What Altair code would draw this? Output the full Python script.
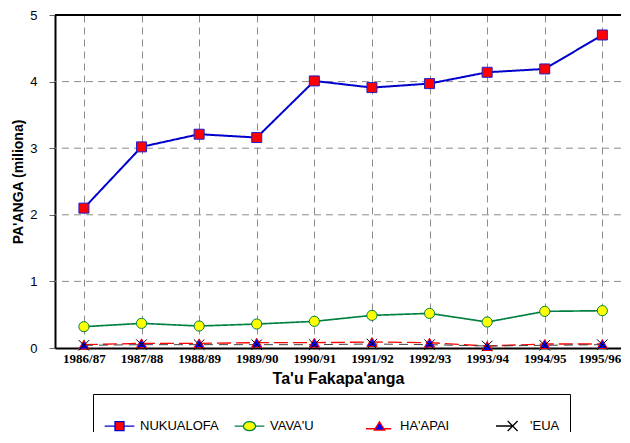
import altair as alt
import pandas as pd

years = ["1986/87", "1987/88", "1988/89", "1989/90", "1990/91",
         "1991/92", "1992/93", "1993/94", "1994/95", "1995/96"]
nukualofa = [2.10, 3.02, 3.21, 3.16, 4.01, 3.91, 3.97, 4.14, 4.19, 4.70]
vavau = [0.32, 0.37, 0.33, 0.36, 0.40, 0.49, 0.52, 0.39, 0.55, 0.56]
haapai = [0.05, 0.07, 0.07, 0.08, 0.08, 0.09, 0.08, 0.03, 0.06, 0.06]
eua = [0.04, 0.05, 0.05, 0.05, 0.05, 0.06, 0.05, 0.03, 0.04, 0.05]

series_names = ["NUKUALOFA", "VAVA'U", "HA'APAI", "'EUA"]
series_values = [nukualofa, vavau, haapai, eua]

line_colors = ["#0000CC", "#008040", "#FF0000", "#404040"]
line_widths = [2, 1, 1.5, 1.5]
line_dashes = [[1, 0], [1, 0], [14, 5], [9, 6]]
marker_fill = ["#FF0000", "#FFFF00", "#0000FF", "#000000"]
marker_stroke = ["#2020CC", "#008040", "#FF0000", "#000000"]
marker_shapes = ["square", "circle", "triangle-up", "M-1,-1L1,1M-1,1L1,-1"]
marker_sizes = [100, 110, 70, 70]
legend_strokes = ["#0000CC", "#008040", "#FF0000", "#000000"]
legend_paths = [
    "M-3.3,0H-1M1,0H3.3M-1,-1H1V1H-1Z",
    "M-3.3,0H-1.35M1.35,0H3.3M-1.35,0A1.35,1 0 1,0 1.35,0A1.35,1 0 1,0 -1.35,0Z",
    "M-3.0,0.55H-0.8M0.8,0.55H2.6M0,-1L1.15,0.85H-1.15Z",
    "M-3.0,0H0.8M-0.4,-1.1L1.8,1.1M-0.4,1.1L1.8,-1.1",
]

y_ticks = [0, 0.5, 1, 1.5, 2, 2.5, 3, 3.5, 4, 4.5, 5]
grid_y = [1, 2, 3, 4]
top_y = [5]

rows = []
for name, vals in zip(series_names, series_values):
    for yr, v in zip(years, vals):
        rows.append({"year": yr, "value": v, "series": name})
df = pd.DataFrame(rows)

x_enc = alt.X("year:N", sort=years,
              scale=alt.Scale(type="point", padding=0.413, align=0.608),
              axis=alt.Axis(title="Ta'u Fakapa'anga", labelAngle=0, ticks=False,
                            labelFont="Liberation Serif", labelFontWeight="bold",
                            labelFontSize=13, labelColor="black", labelPadding=4,
                            labelOffset={"condition": {"test": "datum.label == '1995/96'", "value": -3}, "value": 0},
                            domainColor="black", domainWidth=2,
                            grid=True, gridDash=[7, 5], gridColor="#8c8c8c", gridWidth=1,
                            titleFont="Liberation Sans", titleFontSize=16,
                            titleFontWeight=900, titleColor="black", titlePadding=5))
y_scale = alt.Scale(domain=[0, 5], nice=False)
y_enc = alt.Y("value:Q", scale=y_scale,
              axis=alt.Axis(title="PA'ANGA (miliona)", values=y_ticks,
                            labelExpr="datum.value % 1 == 0 ? format(datum.value, 'd') : ''",
                            labelFont="Liberation Sans", labelFontSize=13,
                            labelColor="black", labelPadding=12,
                            tickSize=6, tickColor="#666666", tickWidth=1,
                            domainColor="black", domainWidth=2, grid=False,
                            titleFont="Liberation Sans", titleFontSize=14,
                            titleFontWeight=900, titleColor="black", titlePadding=4))

grid = alt.Chart(pd.DataFrame({"g": grid_y})).mark_rule(
    color="#8c8c8c", strokeDash=[7, 5], strokeWidth=1
).encode(y=alt.Y("g:Q", scale=y_scale))

top = alt.Chart(pd.DataFrame({"t": top_y})).mark_rule(
    color="black", strokeWidth=2
).encode(y=alt.Y("t:Q", scale=y_scale))

lines = alt.Chart(df).mark_line().encode(
    x=x_enc, y=y_enc,
    color=alt.Color("series:N", scale=alt.Scale(domain=series_names, range=line_colors), legend=None),
    strokeWidth=alt.StrokeWidth("series:N", scale=alt.Scale(domain=series_names, range=line_widths), legend=None),
    strokeDash=alt.StrokeDash("series:N", scale=alt.Scale(domain=series_names, range=line_dashes), legend=None),
    order=alt.Order("year:N"),
)

points = alt.Chart(df).mark_point(filled=True, opacity=1, strokeWidth=1).encode(
    x=alt.X("year:N", sort=years), y="value:Q",
    shape=alt.Shape("series:N", scale=alt.Scale(domain=series_names, range=marker_shapes), legend=None),
    fill=alt.Fill("series:N", scale=alt.Scale(domain=series_names, range=marker_fill), legend=None),
    stroke=alt.Stroke("series:N", scale=alt.Scale(domain=series_names, range=marker_stroke), legend=None),
    size=alt.Size("series:N", scale=alt.Scale(domain=series_names, range=marker_sizes), legend=None),
)

leg = dict(orient="none", legendX=38, legendY=379, direction="horizontal",
           columns=4, gridAlign="all", columnPadding=13, title=" ",
           titleFontSize=10, titlePadding=5,
           labelFont="Liberation Sans", labelFontSize=13, labelColor="black",
           symbolSize=81, symbolStrokeWidth=1.3, symbolOpacity=1,
           symbolOffset=10, labelOffset=14,
           strokeColor="black", padding=10, fillColor="white")

legend_layer = alt.Chart(df).mark_point(filled=True, opacity=0).encode(
    x=alt.X("year:N", sort=years), y="value:Q",
    shape=alt.Shape("series:N", scale=alt.Scale(domain=series_names, range=legend_paths), legend=alt.Legend(**leg)),
    fill=alt.Fill("series:N", scale=alt.Scale(domain=series_names, range=marker_fill), legend=alt.Legend(**leg)),
    stroke=alt.Stroke("series:N", scale=alt.Scale(domain=series_names, range=legend_strokes), legend=alt.Legend(**leg)),
)

chart = alt.layer(grid, lines, points, legend_layer, top).resolve_scale(
    shape="independent", fill="independent", stroke="independent", size="independent"
).properties(
    width=566, height=333,
    autosize=alt.AutoSizeParams(type="none"),
    padding={"left": 47, "top": 7, "right": 0, "bottom": 84},
).configure_view(stroke=None).configure_legend(strokeWidth=2).configure(background="white")

chart.save("out.html", embed_options={"renderer": "svg", "actions": False})
